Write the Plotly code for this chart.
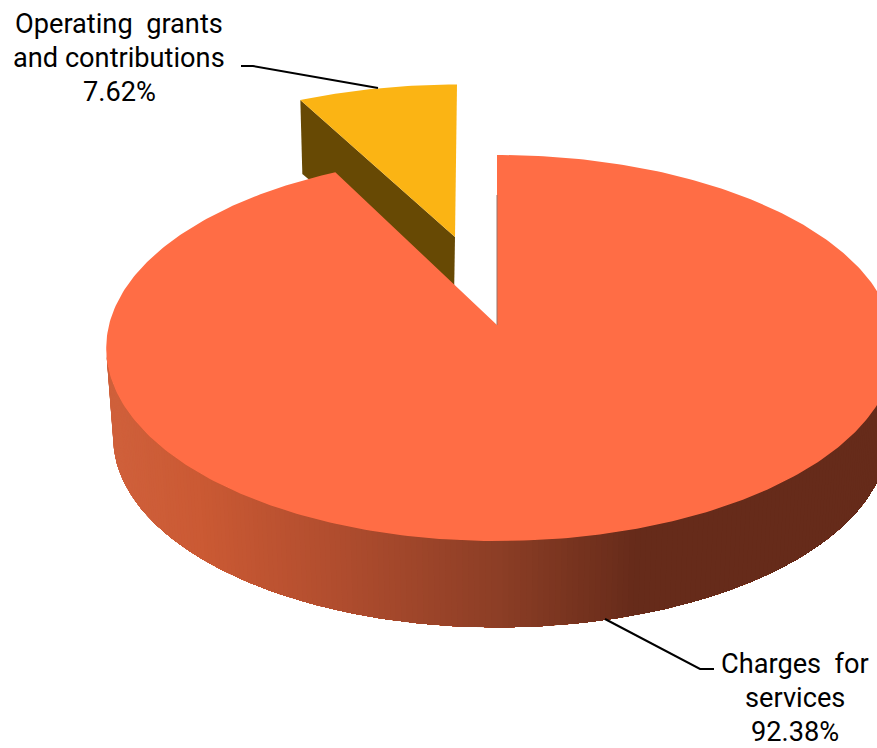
import numpy as np
import plotly.graph_objects as go

# Revenue shares, in percent
categories = ["Charges for services", "Operating grants and contributions"]
shares = [92.38, 7.62]
label_lines = [["Charges\u00a0\u00a0for", "services", "92.38%"],
               ["Operating\u00a0\u00a0grants", "and contributions", "7.62%"]]

TOP_COLOR = "#FF6D45"
SLICE_COLOR = "#FBB414"
SLICE_FACE = "#674904"
SIDE_STOPS_X = [106, 200, 330, 500, 640, 900]
SIDE_STOPS_RGB = [(208, 97, 60), (203, 90, 52), (178, 78, 47), (140, 62, 38), (102, 43, 26), (102, 43, 26)]


def disk(theta_deg, cx, cy, a, b, a_right=None, p=0.119):
    """Perspective projection of a disk point; theta runs clockwise from the far side."""
    t = np.radians(theta_deg)
    w = 1 + p * np.cos(t)
    s = np.sin(t)
    half = np.where(s > 0, a if a_right is None else a_right, a)
    return cx + half * s / w, cy - b * np.cos(t) / w


MAIN_TOP = dict(cx=497, cy=325, a=388, a_right=395, b=190.3)
MAIN_BASE = dict(cx=497, cy=415, a=381, a_right=388, b=187)
SLICE_TOP = dict(cx=457, cy=237, a=376, b=170.6)
SLICE_APEX_X = 455

main_end = 360 * shares[0] / sum(shares)
fig = go.Figure()


def poly(xs, ys, color):
    fig.add_trace(go.Scatter(x=list(xs), y=list(ys), mode="lines", fill="toself", fillcolor=color,
                             line=dict(color=color, width=0), hoverinfo="skip", showlegend=False))


# Exploded slice: inner cut face, then the top surface
rim_x, rim_y = disk(np.linspace(main_end, 360, 40), **SLICE_TOP)
poly([rim_x[0], SLICE_APEX_X, SLICE_APEX_X - 1, rim_x[0] + 2],
     [rim_y[0], SLICE_TOP["cy"], SLICE_TOP["cy"] + 63, rim_y[0] + 74], SLICE_FACE)
poly(np.r_[SLICE_APEX_X, rim_x], np.r_[SLICE_TOP["cy"], rim_y], SLICE_COLOR)

# Outer wall of the large slice; each band runs on to the right end and is painted
# over by the next one, which leaves no seams between bands
wall_angles = np.linspace(263, 97, 221)
ux, uy = disk(wall_angles, **MAIN_TOP)
lx, ly = disk(wall_angles, **MAIN_BASE)
for i in range(0, len(wall_angles) - 1):
    rgb = [np.interp(ux[i:i + 2].mean(), SIDE_STOPS_X, [s[c] for s in SIDE_STOPS_RGB]) for c in range(3)]
    poly(np.r_[ux[i:], lx[i:][::-1]], np.r_[uy[i:], ly[i:][::-1]], "rgb(%d,%d,%d)" % tuple(rgb))

# Top surface of the large slice
top_x, top_y = disk(np.linspace(0, main_end, 400), **MAIN_TOP)
poly(np.r_[MAIN_TOP["cx"], top_x], np.r_[MAIN_TOP["cy"], top_y], TOP_COLOR)

# Cut face of the large slice, seen nearly edge-on
fig.add_trace(go.Scatter(x=[MAIN_TOP["cx"]] * 2, y=[MAIN_TOP["cy"], MAIN_TOP["cy"] - 130], mode="lines",
                         line=dict(color="#9A7468", width=1), hoverinfo="skip", showlegend=False))

# Leader lines
for xs, ys in [([241, 253, 378], [66, 66, 88]), ([605, 700, 714], [619, 669, 669])]:
    fig.add_trace(go.Scatter(x=xs, y=ys, mode="lines", line=dict(color="black", width=2),
                             hoverinfo="skip", showlegend=False))

# Data labels, one annotation per line of text
for lines, cx, base in [(label_lines[0], 795, 672), (label_lines[1], 119, 31.5)]:
    for i, line in enumerate(lines):
        fig.add_annotation(x=cx, y=base + i * 34, text=line, showarrow=False, xanchor="center",
                           yanchor="middle", yshift=8, font=dict(family="Roboto", size=27.2, color="black"))

fig.update_xaxes(range=[0, 877], visible=False, fixedrange=True)
fig.update_yaxes(range=[748, 0], visible=False, fixedrange=True)
fig.update_layout(width=877, height=748, margin=dict(l=0, r=0, t=0, b=0),
                  paper_bgcolor="white", plot_bgcolor="white", showlegend=False)
fig.write_html("out.html", config={"displayModeBar": False})
